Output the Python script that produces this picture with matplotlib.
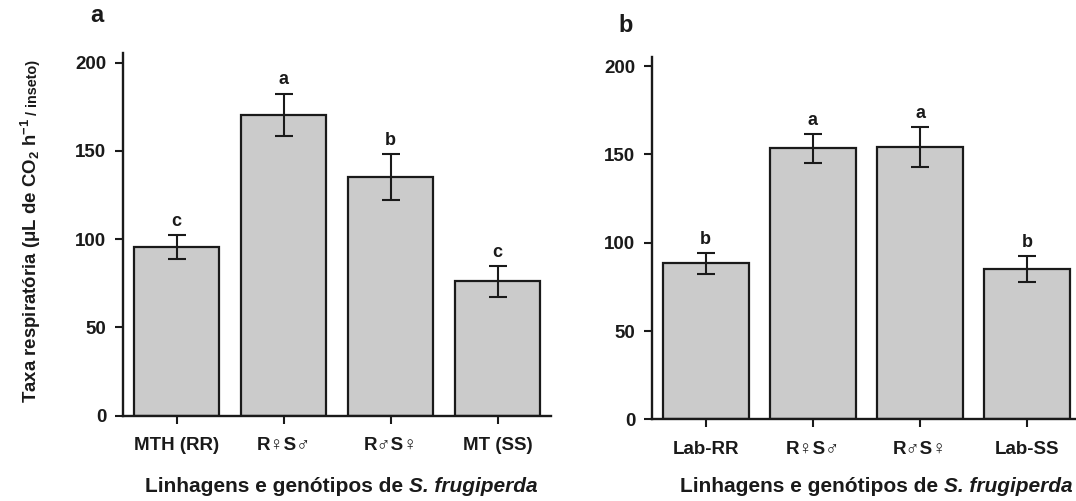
import matplotlib
matplotlib.use("Agg")
import matplotlib.pyplot as plt
import numpy as np

# ---- data ----
cats_a = ["MTH (RR)", "R♀S♂", "R♂S♀", "MT (SS)"]
means_a = [95.5, 170.5, 135.0, 76.0]
errs_a = [7.0, 12.0, 13.0, 8.8]
letters_a = ["c", "a", "b", "c"]

cats_b = ["Lab-RR", "R♀S♂", "R♂S♀", "Lab-SS"]
means_b = [88.3, 153.4, 154.1, 85.1]
errs_b = [6.0, 8.3, 11.3, 7.2]
letters_b = ["b", "a", "a", "b"]

yticks = [0, 50, 100, 150, 200]

plt.rcParams['font.family'] = ['Liberation Sans', 'DejaVu Sans']
plt.rcParams['font.weight'] = 'bold'
plt.rcParams['mathtext.fontset'] = 'custom'
plt.rcParams['mathtext.rm'] = 'Liberation Sans:bold'
plt.rcParams['mathtext.bf'] = 'Liberation Sans:bold'
plt.rcParams['mathtext.it'] = 'Liberation Sans:italic:bold'
plt.rcParams['mathtext.default'] = 'rm'

INK = '#1a1a1a'
W, H = 1076, 501
fig = plt.figure(figsize=(W / 100, H / 100), dpi=100)
fig.patch.set_facecolor('white')

def px_axes(left, right, top, bottom):
    return fig.add_axes([left / W, 1 - bottom / H, (right - left) / W, (bottom - top) / H])

ax_a = px_axes(123, 551, 53.3, 415.5)
ax_b = px_axes(652, 1081, 57.3, 419.3)

def draw(ax, cats, means, errs, letters, xr, ytop):
    x = np.arange(len(cats))
    ax.bar(x, means, width=0.8, color='#cbcbcb', edgecolor=INK, linewidth=1.6, zorder=2)
    ax.errorbar(x, means, yerr=errs, fmt='none', ecolor=INK, elinewidth=1.5,
                capsize=6.8, capthick=1.5, zorder=3)
    for xi, m, e, l in zip(x, means, errs, letters):
        ax.annotate(l, (xi, m + e), xytext=(0, 6.5), textcoords='offset points',
                    ha='center', va='baseline', fontsize=13, fontweight='bold', color=INK)
    ax.set_xlim(-0.5, xr)
    ax.set_ylim(0, ytop)
    ax.set_yticks(yticks)
    ax.set_yticklabels([str(t) for t in yticks])
    ax.set_xticks(x)
    ax.set_xticklabels(cats)
    for s in ['top', 'right']:
        ax.spines[s].set_visible(False)
    for s in ['left', 'bottom']:
        ax.spines[s].set_linewidth(1.7)
        ax.spines[s].set_color(INK)
    ax.tick_params(axis='y', direction='out', length=6, width=1.5, pad=6,
                   labelsize=13.5, colors=INK)
    ax.tick_params(axis='x', direction='out', length=5.5, width=1.5, pad=10,
                   labelsize=13.5, colors=INK)
    for lab in ax.get_xticklabels() + ax.get_yticklabels():
        lab.set_fontweight('bold')
    ax.set_facecolor('none')

draw(ax_a, cats_a, means_a, errs_a, letters_a, 3.5, 205.3)
draw(ax_b, cats_b, means_b, errs_b, letters_b, 3.5, 205.0)

renderer = fig.canvas.get_renderer()

def mixed_xlabel(cx, base_y, size=15):
    p1 = fig.text(0, base_y / H, 'Linhagens e genótipos de ', ha='left', va='baseline',
                  fontsize=size, fontweight='bold', color=INK)
    p2 = fig.text(0, base_y / H, 'S. frugiperda', ha='left', va='baseline',
                  fontsize=size, fontweight='bold', fontstyle='italic', color=INK)
    w1 = p1.get_window_extent(renderer).width
    w2 = p2.get_window_extent(renderer).width
    x0 = cx - (w1 + w2) / 2
    p1.set_x(x0 / W)
    p2.set_x((x0 + w1) / W)

mixed_xlabel(341.5, H - 492)
mixed_xlabel(876, H - 492)

fig.text(96.7 / W, 1 - 21.7 / H, 'a', ha='center', va='baseline', fontsize=17,
         fontweight='bold', color=INK)
fig.text(626 / W, 1 - 31.7 / H, 'b', ha='center', va='baseline', fontsize=17,
         fontweight='bold', color=INK)

# y label with smaller trailing part
t1 = fig.text(37 / W, 1 - 403 / H, r'Taxa respiratória (μL de CO$_2$ h$^{-1}$',
              rotation=90, rotation_mode='anchor', ha='left', va='baseline',
              fontsize=13.4, fontweight='bold', color=INK)
bb = t1.get_window_extent(renderer)
fig.text(37 / W, (bb.y1 + 3) / H, '/ inseto)', rotation=90, rotation_mode='anchor',
         ha='left', va='baseline', fontsize=10.4, fontweight='bold', color=INK)

fig.savefig('out.png', dpi=100, facecolor='white')
